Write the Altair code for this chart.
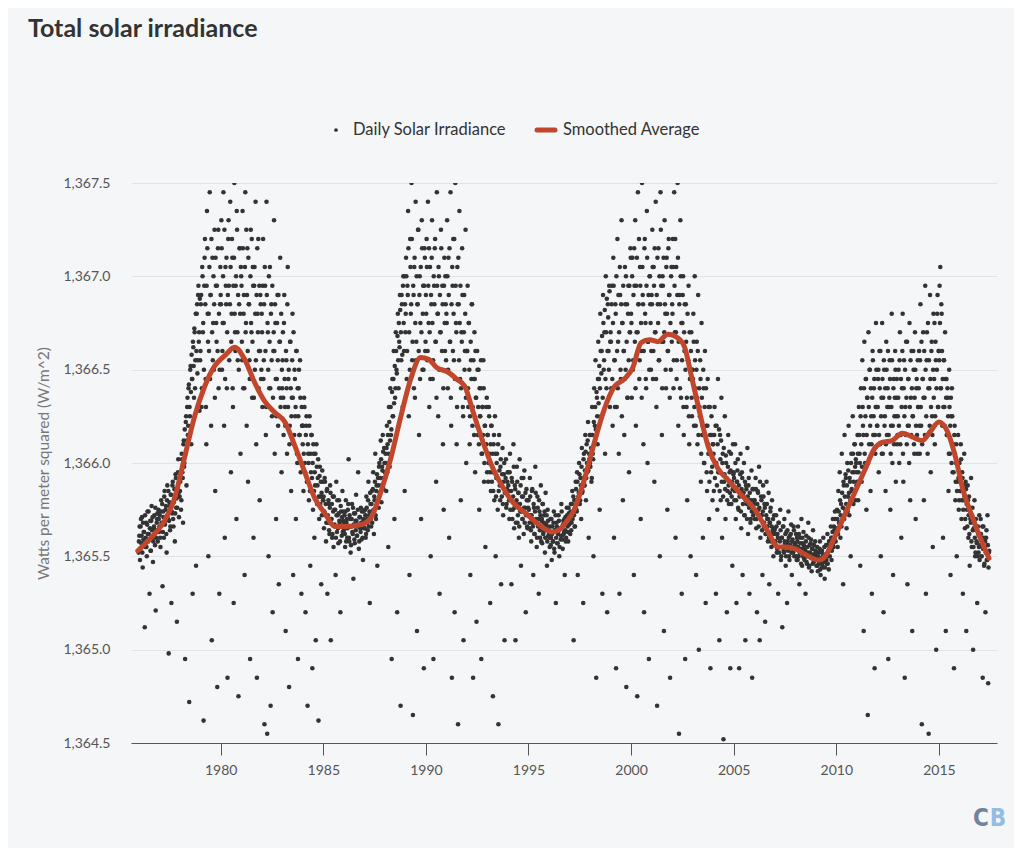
import altair as alt
import pandas as pd

# ---------------- data ----------------
smooth_year = [1975.96, 1976.61, 1977.26, 1977.75, 1978.24, 1978.73, 1979.22, 1979.71, 1980.2, 1980.68,
               1981.17, 1981.66, 1982.15, 1982.64, 1983.13, 1983.62, 1984.1, 1984.59, 1985.08, 1985.57,
               1986.06, 1986.86, 1987.34, 1987.82, 1988.3, 1988.78, 1989.26, 1989.74, 1990.14, 1990.54,
               1991.03, 1991.5, 1991.9, 1992.31, 1992.79, 1993.27, 1993.75, 1994.23, 1994.87, 1995.51,
               1996.15, 1996.47, 1996.74, 1997.23, 1997.72, 1998.21, 1998.7, 1999.19, 1999.67, 2000.08,
               2000.49, 2000.9, 2001.3, 2001.79, 2002.28, 2002.61, 2002.93, 2003.26, 2003.75, 2004.23,
               2004.72, 2005.37, 2006.03, 2006.68, 2007.17, 2007.51, 2008.0, 2008.49, 2009.14, 2009.46,
               2009.95, 2010.44, 2010.93, 2011.42, 2011.82, 2012.23, 2012.72, 2013.21, 2013.7, 2014.19,
               2014.59, 2015.0, 2015.41, 2015.81, 2016.14, 2016.63, 2017.12, 2017.44]
smooth_value = [1365.53, 1365.60, 1365.69, 1365.81, 1366.03, 1366.25, 1366.41, 1366.52, 1366.575, 1366.62,
                1366.555, 1366.43, 1366.33, 1366.27, 1366.22, 1366.09, 1365.95, 1365.81, 1365.73, 1365.66,
                1365.66, 1365.67, 1365.71, 1365.85, 1366.03, 1366.25, 1366.45, 1366.565, 1366.555, 1366.51,
                1366.49, 1366.45, 1366.41, 1366.27, 1366.11, 1365.97, 1365.87, 1365.79, 1365.73, 1365.67,
                1365.63, 1365.64, 1365.67, 1365.75, 1365.91, 1366.11, 1366.29, 1366.41, 1366.45, 1366.51,
                1366.645, 1366.66, 1366.65, 1366.69, 1366.67, 1366.62, 1366.47, 1366.31, 1366.09, 1365.97,
                1365.91, 1365.83, 1365.75, 1365.63, 1365.55, 1365.55, 1365.54, 1365.51, 1365.48, 1365.50,
                1365.61, 1365.73, 1365.85, 1365.97, 1366.07, 1366.11, 1366.12, 1366.16, 1366.14, 1366.12,
                1366.17, 1366.22, 1366.17, 1366.03, 1365.87, 1365.71, 1365.57, 1365.49]

# daily readings (spread incl. dips), sampled through each year in time order
tsi_1976 = [1365.52, 1365.61, 1365.48, 1365.66, 1365.57, 1365.71, 1365.44, 1365.59, 1365.63, 1365.12, 1365.55, 1365.68, 1365.50, 1365.74, 1365.58, 1365.62, 1365.30, 1365.69, 1365.53, 1365.77, 1365.60, 1365.47, 1365.65, 1365.72, 1365.56, 1365.21, 1365.64, 1365.70, 1365.58, 1365.75]
tsi_1977 = [1365.63, 1365.72, 1365.55, 1365.80, 1365.67, 1365.34, 1365.74, 1365.60, 1365.85, 1365.69, 1365.77, 1365.52, 1365.88, 1365.70, 1364.98, 1365.79, 1365.64, 1365.83, 1365.25, 1365.73, 1365.90, 1365.66, 1365.81, 1365.58, 1365.94, 1365.76, 1365.15, 1365.86, 1366.02, 1365.71]
tsi_1978 = [1365.82, 1365.90, 1365.75, 1366.05, 1365.95, 1365.68, 1366.12, 1366.00, 1364.95, 1366.22, 1365.88, 1366.30, 1366.15, 1366.40, 1364.72, 1366.25, 1366.52, 1366.10, 1366.45, 1365.30, 1366.62, 1366.35, 1366.70, 1366.55, 1365.45, 1366.80, 1366.48, 1366.90, 1366.65, 1366.28]
tsi_1979 = [1366.55, 1366.85, 1366.30, 1367.05, 1366.70, 1364.62, 1366.95, 1367.20, 1366.45, 1366.10, 1367.35, 1366.80, 1365.50, 1366.60, 1367.45, 1366.90, 1366.20, 1365.05, 1367.10, 1366.75, 1366.50, 1367.25, 1365.85, 1366.95, 1366.65, 1364.80, 1367.15, 1366.40, 1365.30, 1366.85]
tsi_1980 = [1366.90, 1367.30, 1366.50, 1366.75, 1367.45, 1366.20, 1365.60, 1367.05, 1366.85, 1366.40, 1364.85, 1367.20, 1366.95, 1366.60, 1367.40, 1365.95, 1366.80, 1367.10, 1366.30, 1365.25, 1367.50, 1366.70, 1366.95, 1365.70, 1367.25, 1366.55, 1364.75, 1366.85, 1367.15, 1366.05]
tsi_1981 = [1367.00, 1366.65, 1367.35, 1366.40, 1366.90, 1365.40, 1367.45, 1366.75, 1366.20, 1367.15, 1365.90, 1366.85, 1366.55, 1364.95, 1367.25, 1366.70, 1366.35, 1367.05, 1365.60, 1366.95, 1366.50, 1367.40, 1366.10, 1364.85, 1366.80, 1367.20, 1366.60, 1365.80, 1366.90, 1366.45]
tsi_1982 = [1366.80, 1366.30, 1367.20, 1366.55, 1364.60, 1366.95, 1366.15, 1367.40, 1364.55, 1366.70, 1365.50, 1366.40, 1367.05, 1364.70, 1366.85, 1366.25, 1365.20, 1366.60, 1367.30, 1366.05, 1366.75, 1365.70, 1366.45, 1366.90, 1366.20, 1365.35, 1366.65, 1367.10, 1366.35, 1365.95]
tsi_1983 = [1366.40, 1366.70, 1366.15, 1366.90, 1366.30, 1365.10, 1366.55, 1366.05, 1367.05, 1366.45, 1364.80, 1366.20, 1366.65, 1365.85, 1366.35, 1366.80, 1365.40, 1366.10, 1366.50, 1366.25, 1365.70, 1366.60, 1366.00, 1364.95, 1366.40, 1366.15, 1366.55, 1365.95, 1365.30, 1366.20]
tsi_1984 = [1366.10, 1365.85, 1366.35, 1366.00, 1365.20, 1366.20, 1365.90, 1364.70, 1366.05, 1365.80, 1366.25, 1365.45, 1365.95, 1366.15, 1364.90, 1365.75, 1366.05, 1365.60, 1365.88, 1365.05, 1366.10, 1365.78, 1365.92, 1364.62, 1365.70, 1365.98, 1365.82, 1365.35, 1365.72, 1365.90]
tsi_1985 = [1365.80, 1365.65, 1365.92, 1365.72, 1365.58, 1365.85, 1365.30, 1365.68, 1365.78, 1365.62, 1365.88, 1365.05, 1365.70, 1365.60, 1365.82, 1365.55, 1365.75, 1365.66, 1365.40, 1365.90, 1365.63, 1365.72, 1365.57, 1365.80, 1365.68, 1365.20, 1365.74, 1365.61, 1365.85, 1365.69]
tsi_1986 = [1365.64, 1365.72, 1365.55, 1365.80, 1365.68, 1365.60, 1365.75, 1366.02, 1365.58, 1365.70, 1365.52, 1365.66, 1365.78, 1365.62, 1365.38, 1365.73, 1365.57, 1365.69, 1365.83, 1365.61, 1365.67, 1365.95, 1365.54, 1365.71, 1365.65, 1365.76, 1365.59, 1365.68, 1365.48, 1365.74]
tsi_1987 = [1365.68, 1365.75, 1365.60, 1365.82, 1365.70, 1365.64, 1365.90, 1365.72, 1365.25, 1365.78, 1365.66, 1365.85, 1365.74, 1365.95, 1365.62, 1365.80, 1366.05, 1365.70, 1365.88, 1365.45, 1365.92, 1365.76, 1366.00, 1365.84, 1366.12, 1365.79, 1365.98, 1366.15, 1365.86, 1366.08]
tsi_1988 = [1365.95, 1366.05, 1365.85, 1366.20, 1366.10, 1365.55, 1366.30, 1365.98, 1366.40, 1366.15, 1364.95, 1366.45, 1366.25, 1366.60, 1365.70, 1366.35, 1366.70, 1366.50, 1365.20, 1366.80, 1366.40, 1366.65, 1366.90, 1364.70, 1366.55, 1366.85, 1366.30, 1367.00, 1366.60, 1365.85]
tsi_1989 = [1366.70, 1367.10, 1366.45, 1366.95, 1367.35, 1366.25, 1365.40, 1367.20, 1366.80, 1367.50, 1366.55, 1364.65, 1366.90, 1367.05, 1366.35, 1367.40, 1366.65, 1365.10, 1366.85, 1367.25, 1366.15, 1367.00, 1366.75, 1365.70, 1367.30, 1366.50, 1366.95, 1364.90, 1367.15, 1366.60]
tsi_1990 = [1366.90, 1367.20, 1366.55, 1367.40, 1366.75, 1366.30, 1367.05, 1365.50, 1366.85, 1367.30, 1366.45, 1364.95, 1366.95, 1367.15, 1366.65, 1365.90, 1367.45, 1366.80, 1366.25, 1367.00, 1365.30, 1366.70, 1367.25, 1366.50, 1366.95, 1366.10, 1365.75, 1367.10, 1366.60, 1366.85]
tsi_1991 = [1366.80, 1367.30, 1366.40, 1367.10, 1365.60, 1366.65, 1367.45, 1366.20, 1364.85, 1366.95, 1367.20, 1366.55, 1365.20, 1367.50, 1366.75, 1366.10, 1367.05, 1364.60, 1366.85, 1367.35, 1366.45, 1365.80, 1366.70, 1367.15, 1366.30, 1365.05, 1366.90, 1366.60, 1367.25, 1366.00]
tsi_1992 = [1366.60, 1366.95, 1366.30, 1366.75, 1366.10, 1365.40, 1366.55, 1366.85, 1366.20, 1364.85, 1366.45, 1366.70, 1365.95, 1366.35, 1365.15, 1366.60, 1366.15, 1366.50, 1365.75, 1366.25, 1366.40, 1364.95, 1366.05, 1366.30, 1366.55, 1365.90, 1366.20, 1365.55, 1366.10, 1366.35]
tsi_1993 = [1366.15, 1365.90, 1366.30, 1366.05, 1365.25, 1365.85, 1366.20, 1365.95, 1364.75, 1366.10, 1365.80, 1366.25, 1365.50, 1365.92, 1366.05, 1365.75, 1364.60, 1366.15, 1365.88, 1365.98, 1365.35, 1365.82, 1366.08, 1365.72, 1365.94, 1365.05, 1365.86, 1366.02, 1365.78, 1365.90]
tsi_1994 = [1365.85, 1365.95, 1365.70, 1366.05, 1365.80, 1365.35, 1365.90, 1365.75, 1366.10, 1365.65, 1365.88, 1365.05, 1365.78, 1365.98, 1365.68, 1365.84, 1365.60, 1366.02, 1365.74, 1365.45, 1365.92, 1365.70, 1365.82, 1365.62, 1365.96, 1365.76, 1365.20, 1365.86, 1365.66, 1365.80]
tsi_1995 = [1365.80, 1365.65, 1365.92, 1365.72, 1365.58, 1365.85, 1365.68, 1365.40, 1365.76, 1365.62, 1365.98, 1365.70, 1365.55, 1365.82, 1365.66, 1365.30, 1365.74, 1365.60, 1365.88, 1365.69, 1365.57, 1365.78, 1365.63, 1365.72, 1365.52, 1365.84, 1365.67, 1365.45, 1365.75, 1365.61]
tsi_1996 = [1365.62, 1365.55, 1365.70, 1365.60, 1365.48, 1365.66, 1365.58, 1365.74, 1365.52, 1365.64, 1365.25, 1365.68, 1365.57, 1365.62, 1365.72, 1365.50, 1365.65, 1365.59, 1365.78, 1365.61, 1365.54, 1365.69, 1365.63, 1365.40, 1365.71, 1365.60, 1365.76, 1365.66, 1365.58, 1365.73]
tsi_1997 = [1365.70, 1365.62, 1365.78, 1365.68, 1365.85, 1365.72, 1365.05, 1365.80, 1365.66, 1365.90, 1365.75, 1365.95, 1365.40, 1365.82, 1366.00, 1365.78, 1365.92, 1365.70, 1366.08, 1365.85, 1365.25, 1366.05, 1365.88, 1366.15, 1365.80, 1366.10, 1365.95, 1366.22, 1365.60, 1366.02]
tsi_1998 = [1366.00, 1366.15, 1365.90, 1366.30, 1366.05, 1365.50, 1366.40, 1366.20, 1366.55, 1364.85, 1366.35, 1366.10, 1366.65, 1366.45, 1365.75, 1366.80, 1366.25, 1366.60, 1365.30, 1366.90, 1366.50, 1366.70, 1366.05, 1367.00, 1366.40, 1365.20, 1366.85, 1366.60, 1366.95, 1366.30]
tsi_1999 = [1366.70, 1366.40, 1366.95, 1366.20, 1367.10, 1365.60, 1366.55, 1366.85, 1364.90, 1366.30, 1367.20, 1366.65, 1366.05, 1365.30, 1366.90, 1366.45, 1367.30, 1366.75, 1365.80, 1366.60, 1366.15, 1367.05, 1366.50, 1364.80, 1366.85, 1366.35, 1366.95, 1365.95, 1366.70, 1367.15]
tsi_2000 = [1366.80, 1366.35, 1367.10, 1366.55, 1365.40, 1366.95, 1367.30, 1366.20, 1366.70, 1364.75, 1367.45, 1366.85, 1366.45, 1367.05, 1365.70, 1366.60, 1367.50, 1366.90, 1366.10, 1365.20, 1367.20, 1366.75, 1366.40, 1367.35, 1366.00, 1366.65, 1364.95, 1367.00, 1366.85, 1366.50]
tsi_2001 = [1366.90, 1367.25, 1366.45, 1367.05, 1365.90, 1366.70, 1367.40, 1366.30, 1364.70, 1366.85, 1367.15, 1366.55, 1365.50, 1367.45, 1366.95, 1366.15, 1367.00, 1366.65, 1365.10, 1367.30, 1366.80, 1366.40, 1367.10, 1365.75, 1366.60, 1367.20, 1366.90, 1364.85, 1366.50, 1367.05]
tsi_2002 = [1366.85, 1367.20, 1366.40, 1367.45, 1366.70, 1365.60, 1367.05, 1366.55, 1367.50, 1366.20, 1364.55, 1366.90, 1367.30, 1366.35, 1365.30, 1366.75, 1367.00, 1366.15, 1366.60, 1364.95, 1366.85, 1366.30, 1365.80, 1366.55, 1366.95, 1366.10, 1366.45, 1365.50, 1366.70, 1366.25]
tsi_2003 = [1366.50, 1366.80, 1366.20, 1367.00, 1366.40, 1365.40, 1366.65, 1366.10, 1366.90, 1365.00, 1366.30, 1366.55, 1365.90, 1366.75, 1366.15, 1365.60, 1366.40, 1366.00, 1366.60, 1365.25, 1366.20, 1365.85, 1366.45, 1366.05, 1365.70, 1366.30, 1364.90, 1365.95, 1366.15, 1365.80]
tsi_2004 = [1366.10, 1365.85, 1366.30, 1366.00, 1365.30, 1366.20, 1365.75, 1366.45, 1365.95, 1365.05, 1366.15, 1365.80, 1366.35, 1365.60, 1366.05, 1364.52, 1365.90, 1366.25, 1365.70, 1366.00, 1365.20, 1365.85, 1366.15, 1365.78, 1365.95, 1364.90, 1366.05, 1365.82, 1365.45, 1366.10]
tsi_2005 = [1365.95, 1365.80, 1366.10, 1365.70, 1365.25, 1365.90, 1366.02, 1365.75, 1364.90, 1365.85, 1366.05, 1365.65, 1365.95, 1365.40, 1365.82, 1366.00, 1365.72, 1365.05, 1365.88, 1365.78, 1366.08, 1365.62, 1365.92, 1365.30, 1365.80, 1365.70, 1365.96, 1364.85, 1365.76, 1365.86]
tsi_2006 = [1365.80, 1365.70, 1365.92, 1365.65, 1365.20, 1365.85, 1365.75, 1365.98, 1365.05, 1365.60, 1365.82, 1365.72, 1365.40, 1365.88, 1365.66, 1365.78, 1365.15, 1365.62, 1365.90, 1365.70, 1365.58, 1365.84, 1365.35, 1365.68, 1365.76, 1365.55, 1365.80, 1365.64, 1365.50, 1365.72]
tsi_2007 = [1365.65, 1365.58, 1365.72, 1365.52, 1365.62, 1365.30, 1365.68, 1365.55, 1365.75, 1365.48, 1365.60, 1365.12, 1365.66, 1365.53, 1365.70, 1365.57, 1365.45, 1365.63, 1365.25, 1365.58, 1365.74, 1365.50, 1365.61, 1365.55, 1365.67, 1365.40, 1365.59, 1365.52, 1365.64, 1365.56]
tsi_2008 = [1365.55, 1365.62, 1365.48, 1365.58, 1365.66, 1365.50, 1365.35, 1365.60, 1365.53, 1365.70, 1365.45, 1365.57, 1365.63, 1365.49, 1365.55, 1365.30, 1365.61, 1365.46, 1365.52, 1365.68, 1365.44, 1365.56, 1365.50, 1365.59, 1365.42, 1365.54, 1365.64, 1365.47, 1365.51, 1365.58]
tsi_2009 = [1365.50, 1365.45, 1365.55, 1365.42, 1365.52, 1365.48, 1365.58, 1365.40, 1365.47, 1365.53, 1365.44, 1365.60, 1365.49, 1365.38, 1365.51, 1365.56, 1365.46, 1365.62, 1365.50, 1365.43, 1365.58, 1365.54, 1365.66, 1365.48, 1365.60, 1365.70, 1365.55, 1365.64, 1365.74, 1365.58]
tsi_2010 = [1365.62, 1365.75, 1365.55, 1365.85, 1365.68, 1365.95, 1365.60, 1365.78, 1366.05, 1365.70, 1365.35, 1365.88, 1366.15, 1365.75, 1365.92, 1365.65, 1366.00, 1365.82, 1366.20, 1365.72, 1365.90, 1365.50, 1366.05, 1365.85, 1366.25, 1365.78, 1365.95, 1366.10, 1365.80, 1366.00]
tsi_2011 = [1365.95, 1366.15, 1365.80, 1366.30, 1366.05, 1365.45, 1366.40, 1365.90, 1366.55, 1366.20, 1365.10, 1366.65, 1366.00, 1366.45, 1365.75, 1366.35, 1364.65, 1366.70, 1366.10, 1366.50, 1365.85, 1366.25, 1365.30, 1366.60, 1366.15, 1366.40, 1364.90, 1366.05, 1366.75, 1366.30]
tsi_2012 = [1366.20, 1366.45, 1365.95, 1366.60, 1366.10, 1365.50, 1366.35, 1366.75, 1366.05, 1365.20, 1366.50, 1366.25, 1365.85, 1366.65, 1366.15, 1366.40, 1364.95, 1366.30, 1366.55, 1365.75, 1366.20, 1366.80, 1366.00, 1365.40, 1366.45, 1366.25, 1366.60, 1365.90, 1366.35, 1366.10]
tsi_2013 = [1366.25, 1366.50, 1366.00, 1366.70, 1366.15, 1365.60, 1366.40, 1366.80, 1365.90, 1366.55, 1364.85, 1366.30, 1366.65, 1366.10, 1365.35, 1366.45, 1366.20, 1366.75, 1365.80, 1366.35, 1366.60, 1365.10, 1366.25, 1366.50, 1366.05, 1366.70, 1365.70, 1366.40, 1366.15, 1366.55]
tsi_2014 = [1366.30, 1366.60, 1366.05, 1366.85, 1366.20, 1364.60, 1366.45, 1366.70, 1365.80, 1366.35, 1366.95, 1365.30, 1366.55, 1366.15, 1366.75, 1364.55, 1366.40, 1366.90, 1365.95, 1366.60, 1366.25, 1365.55, 1366.80, 1366.45, 1366.10, 1366.65, 1365.00, 1366.50, 1366.90, 1366.30]
tsi_2015 = [1366.60, 1366.95, 1367.05, 1366.40, 1366.80, 1366.20, 1365.60, 1366.55, 1366.30, 1366.70, 1365.10, 1366.45, 1366.15, 1366.35, 1365.85, 1366.50, 1366.05, 1365.40, 1366.25, 1366.40, 1365.95, 1366.10, 1364.90, 1366.20, 1365.80, 1366.00, 1365.50, 1365.90, 1366.15, 1365.75]
tsi_2016 = [1366.00, 1365.85, 1366.10, 1365.70, 1365.95, 1365.30, 1365.80, 1366.05, 1365.65, 1365.90, 1365.10, 1365.75, 1365.88, 1365.60, 1365.82, 1365.45, 1365.70, 1365.92, 1365.55, 1365.76, 1365.00, 1365.65, 1365.80, 1365.50, 1365.70, 1365.58, 1365.25, 1365.66, 1365.52, 1365.72]
tsi_2017 = [1365.62, 1365.70, 1365.50, 1365.58, 1364.85, 1365.66, 1365.45, 1365.55, 1365.20, 1365.60, 1365.48, 1365.72, 1364.82, 1365.52]

# further daily readings from the dense core of the cloud, also in time order
core_1976 = [1365.58, 1365.66, 1365.54, 1365.70, 1365.61, 1365.52, 1365.68, 1365.63, 1365.57, 1365.72, 1365.60, 1365.55, 1365.67, 1365.62, 1365.74, 1365.59, 1365.65, 1365.53, 1365.69, 1365.64, 1365.71, 1365.58, 1365.66, 1365.62, 1365.76, 1365.60, 1365.68, 1365.73, 1365.63, 1365.70]
core_1977 = [1365.66, 1365.60, 1365.74, 1365.68, 1365.78, 1365.63, 1365.71, 1365.82, 1365.67, 1365.75, 1365.62, 1365.80, 1365.72, 1365.85, 1365.69, 1365.77, 1365.66, 1365.83, 1365.74, 1365.88, 1365.70, 1365.79, 1365.86, 1365.73, 1365.92, 1365.81, 1365.76, 1365.95, 1365.84, 1365.90]
core_1978 = [1365.85, 1365.95, 1365.80, 1366.02, 1365.92, 1366.10, 1365.98, 1366.18, 1366.05, 1366.25, 1366.12, 1366.35, 1366.20, 1366.42, 1366.30, 1366.50, 1366.38, 1366.58, 1366.45, 1366.65, 1366.52, 1366.72, 1366.40, 1366.80, 1366.60, 1366.85, 1366.55, 1366.95, 1366.70, 1366.88]
core_1979 = [1366.60, 1366.90, 1366.40, 1367.00, 1366.75, 1366.50, 1367.10, 1366.85, 1366.30, 1366.95, 1367.15, 1366.65, 1366.80, 1367.05, 1366.45, 1366.90, 1367.20, 1366.70, 1366.55, 1367.00, 1366.85, 1366.35, 1367.10, 1366.75, 1366.95, 1366.60, 1367.25, 1366.80, 1366.50, 1367.05]
core_1980 = [1366.85, 1367.15, 1366.60, 1367.00, 1366.75, 1367.25, 1366.45, 1366.95, 1367.10, 1366.70, 1366.90, 1367.30, 1366.55, 1366.85, 1367.05, 1366.65, 1367.20, 1366.40, 1366.95, 1367.10, 1366.80, 1366.60, 1367.00, 1367.35, 1366.70, 1366.90, 1366.50, 1367.15, 1366.80, 1367.05]
core_1981 = [1366.95, 1366.55, 1367.15, 1366.80, 1366.40, 1367.05, 1366.70, 1367.25, 1366.90, 1366.60, 1367.10, 1366.85, 1366.45, 1367.00, 1366.75, 1367.20, 1366.65, 1366.95, 1366.35, 1367.05, 1366.80, 1366.55, 1366.90, 1367.15, 1366.70, 1366.40, 1366.95, 1366.60, 1366.85, 1366.50]
core_1982 = [1366.70, 1366.95, 1366.45, 1366.85, 1367.05, 1366.60, 1366.30, 1366.90, 1366.75, 1366.50, 1367.00, 1366.65, 1366.40, 1366.80, 1366.55, 1366.95, 1366.35, 1366.70, 1366.60, 1366.85, 1366.45, 1366.25, 1366.75, 1366.55, 1366.90, 1366.40, 1366.65, 1366.30, 1366.80, 1366.50]
core_1983 = [1366.55, 1366.35, 1366.75, 1366.45, 1366.20, 1366.60, 1366.40, 1366.85, 1366.30, 1366.50, 1366.10, 1366.65, 1366.40, 1366.25, 1366.55, 1366.35, 1366.70, 1366.15, 1366.45, 1366.30, 1366.60, 1366.05, 1366.40, 1366.25, 1366.50, 1366.15, 1366.35, 1366.00, 1366.30, 1366.20]
core_1984 = [1366.20, 1366.05, 1366.30, 1365.95, 1366.15, 1366.25, 1365.90, 1366.10, 1366.00, 1366.20, 1365.85, 1366.05, 1366.15, 1365.92, 1366.00, 1366.10, 1365.85, 1365.95, 1366.05, 1365.80, 1365.98, 1365.88, 1366.02, 1365.82, 1365.93, 1365.78, 1365.90, 1365.84, 1365.96, 1365.80]
core_1985 = [1365.82, 1365.74, 1365.90, 1365.78, 1365.68, 1365.86, 1365.72, 1365.80, 1365.64, 1365.76, 1365.84, 1365.70, 1365.78, 1365.62, 1365.74, 1365.82, 1365.67, 1365.75, 1365.60, 1365.72, 1365.80, 1365.65, 1365.73, 1365.69, 1365.58, 1365.77, 1365.66, 1365.71, 1365.63, 1365.74]
core_1986 = [1365.68, 1365.62, 1365.74, 1365.58, 1365.70, 1365.65, 1365.78, 1365.60, 1365.72, 1365.66, 1365.56, 1365.70, 1365.63, 1365.76, 1365.67, 1365.59, 1365.73, 1365.64, 1365.69, 1365.61, 1365.75, 1365.66, 1365.58, 1365.71, 1365.63, 1365.68, 1365.74, 1365.60, 1365.70, 1365.65]
core_1987 = [1365.65, 1365.72, 1365.62, 1365.76, 1365.68, 1365.80, 1365.66, 1365.74, 1365.84, 1365.70, 1365.78, 1365.68, 1365.86, 1365.75, 1365.82, 1365.90, 1365.72, 1365.85, 1365.94, 1365.80, 1365.88, 1365.98, 1365.84, 1365.92, 1366.02, 1365.88, 1365.96, 1366.06, 1365.92, 1366.00]
core_1988 = [1365.92, 1366.00, 1366.08, 1365.95, 1366.15, 1366.05, 1366.22, 1366.12, 1366.30, 1366.18, 1366.38, 1366.25, 1366.45, 1366.32, 1366.52, 1366.40, 1366.60, 1366.48, 1366.68, 1366.55, 1366.75, 1366.62, 1366.82, 1366.70, 1366.90, 1366.58, 1366.95, 1366.75, 1367.00, 1366.85]
core_1989 = [1366.80, 1367.00, 1366.60, 1366.90, 1367.15, 1366.70, 1366.50, 1367.05, 1366.85, 1367.20, 1366.65, 1366.95, 1366.40, 1367.10, 1366.75, 1366.55, 1367.00, 1366.85, 1367.25, 1366.60, 1366.90, 1366.45, 1367.05, 1366.70, 1367.15, 1366.80, 1366.50, 1366.95, 1367.10, 1366.65]
core_1990 = [1366.80, 1367.05, 1366.60, 1366.95, 1367.15, 1366.70, 1366.45, 1366.90, 1367.10, 1366.75, 1366.55, 1367.00, 1366.85, 1367.20, 1366.65, 1366.35, 1366.95, 1366.80, 1367.05, 1366.50, 1366.90, 1366.70, 1367.15, 1366.60, 1366.85, 1366.40, 1366.95, 1366.75, 1367.00, 1366.55]
core_1991 = [1366.75, 1367.00, 1366.50, 1366.90, 1367.15, 1366.65, 1366.35, 1366.85, 1367.05, 1366.60, 1366.80, 1367.20, 1366.45, 1366.95, 1366.70, 1366.30, 1366.85, 1367.10, 1366.55, 1366.75, 1366.95, 1366.40, 1366.65, 1366.90, 1366.25, 1366.70, 1366.50, 1366.80, 1366.35, 1366.60]
core_1992 = [1366.60, 1366.40, 1366.75, 1366.50, 1366.25, 1366.65, 1366.45, 1366.85, 1366.30, 1366.55, 1366.15, 1366.45, 1366.60, 1366.35, 1366.20, 1366.50, 1366.30, 1366.10, 1366.40, 1366.25, 1366.55, 1366.05, 1366.30, 1366.15, 1366.40, 1366.00, 1366.20, 1366.10, 1366.30, 1365.95]
core_1993 = [1366.15, 1366.00, 1366.25, 1365.95, 1366.10, 1366.20, 1365.90, 1366.05, 1365.85, 1366.15, 1365.95, 1366.05, 1365.82, 1366.00, 1365.92, 1366.10, 1365.85, 1365.96, 1365.80, 1366.02, 1365.88, 1365.94, 1365.78, 1365.90, 1366.00, 1365.84, 1365.92, 1365.76, 1365.86, 1365.95]
core_1994 = [1365.88, 1365.80, 1365.95, 1365.75, 1365.85, 1365.92, 1365.70, 1365.82, 1365.98, 1365.76, 1365.86, 1365.68, 1365.80, 1365.90, 1365.72, 1365.84, 1365.66, 1365.78, 1365.88, 1365.74, 1365.82, 1365.70, 1365.92, 1365.76, 1365.68, 1365.84, 1365.72, 1365.80, 1365.65, 1365.76]
core_1995 = [1365.75, 1365.68, 1365.82, 1365.64, 1365.72, 1365.86, 1365.66, 1365.78, 1365.62, 1365.74, 1365.84, 1365.68, 1365.60, 1365.76, 1365.70, 1365.80, 1365.64, 1365.72, 1365.58, 1365.70, 1365.78, 1365.62, 1365.68, 1365.74, 1365.60, 1365.66, 1365.72, 1365.58, 1365.69, 1365.64]
core_1996 = [1365.60, 1365.66, 1365.56, 1365.70, 1365.62, 1365.58, 1365.68, 1365.54, 1365.64, 1365.72, 1365.60, 1365.66, 1365.57, 1365.63, 1365.69, 1365.55, 1365.65, 1365.61, 1365.74, 1365.59, 1365.67, 1365.62, 1365.70, 1365.64, 1365.58, 1365.68, 1365.72, 1365.63, 1365.76, 1365.67]
core_1997 = [1365.68, 1365.74, 1365.64, 1365.78, 1365.70, 1365.82, 1365.72, 1365.66, 1365.80, 1365.86, 1365.74, 1365.90, 1365.78, 1365.84, 1365.94, 1365.80, 1365.88, 1365.98, 1365.84, 1365.92, 1366.02, 1365.88, 1365.96, 1366.06, 1365.92, 1366.00, 1366.12, 1365.96, 1366.05, 1366.15]
core_1998 = [1365.98, 1366.08, 1365.92, 1366.15, 1366.02, 1366.22, 1366.10, 1366.30, 1366.18, 1366.38, 1366.25, 1366.45, 1366.32, 1366.52, 1366.40, 1366.60, 1366.48, 1366.68, 1366.35, 1366.75, 1366.55, 1366.82, 1366.45, 1366.70, 1366.88, 1366.60, 1366.78, 1366.50, 1366.92, 1366.65]
core_1999 = [1366.65, 1366.85, 1366.45, 1366.75, 1366.95, 1366.55, 1366.30, 1366.80, 1367.00, 1366.60, 1366.40, 1366.90, 1366.70, 1367.05, 1366.50, 1366.85, 1366.25, 1366.75, 1366.95, 1366.60, 1366.45, 1366.85, 1367.00, 1366.65, 1366.35, 1366.80, 1366.55, 1366.95, 1366.70, 1367.10]
core_2000 = [1366.75, 1367.00, 1366.50, 1366.90, 1367.15, 1366.65, 1366.40, 1366.95, 1367.10, 1366.70, 1366.85, 1367.20, 1366.55, 1366.95, 1366.75, 1366.35, 1367.05, 1366.85, 1366.60, 1367.15, 1366.80, 1366.45, 1366.95, 1367.10, 1366.65, 1366.90, 1366.50, 1367.00, 1366.75, 1366.60]
core_2001 = [1366.85, 1367.05, 1366.60, 1366.95, 1367.15, 1366.70, 1366.45, 1366.90, 1367.10, 1366.75, 1366.55, 1367.00, 1366.85, 1367.25, 1366.65, 1366.40, 1366.95, 1367.10, 1366.70, 1366.85, 1366.50, 1367.05, 1366.80, 1366.60, 1367.15, 1366.90, 1366.35, 1366.75, 1367.00, 1366.65]
core_2002 = [1366.80, 1367.05, 1366.55, 1366.95, 1367.20, 1366.70, 1366.45, 1366.90, 1367.10, 1366.65, 1366.85, 1366.40, 1367.00, 1366.75, 1366.55, 1366.90, 1366.30, 1366.70, 1366.85, 1366.50, 1366.65, 1366.35, 1366.80, 1366.55, 1366.25, 1366.70, 1366.45, 1366.60, 1366.35, 1366.50]
core_2003 = [1366.45, 1366.65, 1366.30, 1366.55, 1366.20, 1366.50, 1366.35, 1366.60, 1366.15, 1366.40, 1366.25, 1366.45, 1366.05, 1366.35, 1366.20, 1366.50, 1366.00, 1366.30, 1366.15, 1366.40, 1365.95, 1366.20, 1366.10, 1366.30, 1365.90, 1366.15, 1366.05, 1366.25, 1365.98, 1366.10]
core_2004 = [1366.05, 1366.15, 1365.92, 1366.20, 1366.00, 1365.88, 1366.10, 1365.95, 1366.18, 1365.85, 1366.02, 1366.12, 1365.90, 1366.00, 1365.82, 1366.08, 1365.94, 1365.86, 1366.04, 1365.92, 1365.80, 1365.98, 1365.88, 1366.06, 1365.84, 1365.96, 1365.78, 1365.90, 1365.86, 1365.94]
core_2005 = [1365.92, 1365.85, 1366.00, 1365.80, 1365.90, 1365.96, 1365.76, 1365.88, 1365.82, 1365.94, 1365.74, 1365.86, 1365.92, 1365.78, 1365.84, 1365.72, 1365.90, 1365.80, 1365.86, 1365.70, 1365.82, 1365.88, 1365.76, 1365.84, 1365.68, 1365.80, 1365.74, 1365.86, 1365.72, 1365.78]
core_2006 = [1365.80, 1365.74, 1365.86, 1365.70, 1365.78, 1365.84, 1365.66, 1365.76, 1365.90, 1365.72, 1365.80, 1365.64, 1365.74, 1365.82, 1365.68, 1365.76, 1365.62, 1365.72, 1365.78, 1365.66, 1365.70, 1365.60, 1365.68, 1365.74, 1365.58, 1365.66, 1365.62, 1365.70, 1365.56, 1365.64]
core_2007 = [1365.62, 1365.56, 1365.66, 1365.54, 1365.60, 1365.68, 1365.52, 1365.58, 1365.64, 1365.50, 1365.60, 1365.55, 1365.66, 1365.52, 1365.58, 1365.62, 1365.50, 1365.57, 1365.64, 1365.53, 1365.60, 1365.48, 1365.56, 1365.62, 1365.52, 1365.58, 1365.54, 1365.66, 1365.50, 1365.57]
core_2008 = [1365.56, 1365.50, 1365.60, 1365.48, 1365.55, 1365.62, 1365.52, 1365.57, 1365.46, 1365.54, 1365.60, 1365.50, 1365.56, 1365.48, 1365.53, 1365.58, 1365.47, 1365.55, 1365.50, 1365.60, 1365.45, 1365.52, 1365.57, 1365.49, 1365.54, 1365.46, 1365.51, 1365.56, 1365.48, 1365.53]
core_2009 = [1365.48, 1365.52, 1365.45, 1365.50, 1365.46, 1365.54, 1365.43, 1365.49, 1365.52, 1365.45, 1365.50, 1365.47, 1365.55, 1365.44, 1365.51, 1365.48, 1365.56, 1365.46, 1365.53, 1365.58, 1365.50, 1365.55, 1365.60, 1365.53, 1365.63, 1365.57, 1365.66, 1365.60, 1365.70, 1365.64]
core_2010 = [1365.65, 1365.70, 1365.62, 1365.74, 1365.68, 1365.80, 1365.72, 1365.66, 1365.84, 1365.76, 1365.90, 1365.70, 1365.82, 1365.94, 1365.78, 1365.88, 1365.74, 1365.96, 1365.84, 1365.92, 1365.80, 1366.00, 1365.86, 1365.95, 1366.05, 1365.90, 1366.10, 1365.98, 1366.02, 1365.88]
core_2011 = [1365.90, 1366.05, 1365.95, 1366.15, 1366.00, 1366.25, 1366.10, 1365.98, 1366.30, 1366.15, 1366.40, 1366.05, 1366.25, 1366.45, 1366.15, 1366.35, 1366.00, 1366.30, 1366.50, 1366.20, 1366.40, 1366.10, 1366.35, 1366.55, 1366.25, 1366.45, 1366.15, 1366.30, 1366.50, 1366.20]
core_2012 = [1366.30, 1366.50, 1366.15, 1366.40, 1366.60, 1366.25, 1366.05, 1366.45, 1366.35, 1366.55, 1366.20, 1366.40, 1366.10, 1366.50, 1366.30, 1366.60, 1366.15, 1366.35, 1366.45, 1366.05, 1366.30, 1366.55, 1366.20, 1366.40, 1366.10, 1366.35, 1366.50, 1366.25, 1366.45, 1366.15]
core_2013 = [1366.35, 1366.20, 1366.55, 1366.10, 1366.45, 1366.30, 1366.60, 1366.05, 1366.40, 1366.25, 1366.50, 1366.15, 1366.35, 1366.65, 1366.20, 1366.45, 1366.00, 1366.30, 1366.55, 1366.15, 1366.40, 1366.25, 1366.60, 1366.10, 1366.35, 1366.50, 1366.20, 1366.45, 1366.05, 1366.30]
core_2014 = [1366.40, 1366.20, 1366.55, 1366.30, 1366.65, 1366.10, 1366.45, 1366.35, 1366.60, 1366.15, 1366.50, 1366.25, 1366.70, 1366.05, 1366.40, 1366.55, 1366.20, 1366.45, 1366.30, 1366.65, 1366.15, 1366.50, 1366.35, 1366.75, 1366.25, 1366.55, 1366.40, 1366.80, 1366.30, 1366.60]
core_2015 = [1366.55, 1366.75, 1366.40, 1366.85, 1366.60, 1366.45, 1366.30, 1366.55, 1366.20, 1366.45, 1366.35, 1366.15, 1366.40, 1366.25, 1366.05, 1366.30, 1366.20, 1366.35, 1366.00, 1366.25, 1366.10, 1365.95, 1366.15, 1366.05, 1365.90, 1366.10, 1365.85, 1366.00, 1365.92, 1365.80]
core_2016 = [1365.95, 1365.85, 1366.02, 1365.80, 1365.92, 1365.75, 1365.88, 1365.82, 1365.70, 1365.86, 1365.78, 1365.66, 1365.80, 1365.72, 1365.62, 1365.76, 1365.68, 1365.58, 1365.72, 1365.64, 1365.55, 1365.68, 1365.60, 1365.52, 1365.64, 1365.57, 1365.50, 1365.62, 1365.55, 1365.48]
core_2017 = [1365.56, 1365.62, 1365.50, 1365.66, 1365.54, 1365.60, 1365.46, 1365.58, 1365.52, 1365.64, 1365.48, 1365.56, 1365.44, 1365.53]

daily_years = [
    (1976, tsi_1976, core_1976), (1977, tsi_1977, core_1977), (1978, tsi_1978, core_1978),
    (1979, tsi_1979, core_1979), (1980, tsi_1980, core_1980), (1981, tsi_1981, core_1981),
    (1982, tsi_1982, core_1982), (1983, tsi_1983, core_1983), (1984, tsi_1984, core_1984),
    (1985, tsi_1985, core_1985), (1986, tsi_1986, core_1986), (1987, tsi_1987, core_1987),
    (1988, tsi_1988, core_1988), (1989, tsi_1989, core_1989), (1990, tsi_1990, core_1990),
    (1991, tsi_1991, core_1991), (1992, tsi_1992, core_1992), (1993, tsi_1993, core_1993),
    (1994, tsi_1994, core_1994), (1995, tsi_1995, core_1995), (1996, tsi_1996, core_1996),
    (1997, tsi_1997, core_1997), (1998, tsi_1998, core_1998), (1999, tsi_1999, core_1999),
    (2000, tsi_2000, core_2000), (2001, tsi_2001, core_2001), (2002, tsi_2002, core_2002),
    (2003, tsi_2003, core_2003), (2004, tsi_2004, core_2004), (2005, tsi_2005, core_2005),
    (2006, tsi_2006, core_2006), (2007, tsi_2007, core_2007), (2008, tsi_2008, core_2008),
    (2009, tsi_2009, core_2009), (2010, tsi_2010, core_2010), (2011, tsi_2011, core_2011),
    (2012, tsi_2012, core_2012), (2013, tsi_2013, core_2013), (2014, tsi_2014, core_2014),
    (2015, tsi_2015, core_2015), (2016, tsi_2016, core_2016), (2017, tsi_2017, core_2017),
]
SAMPLES_PER_YEAR = 30

x_ticks = [1980, 1985, 1990, 1995, 2000, 2005, 2010, 2015]
y_ticks = [1364.5, 1365.0, 1365.5, 1366.0, 1366.5, 1367.0, 1367.5]

# ---------------- tables ----------------
rows = []
for yr, spread, core in daily_years:
    for i, v in enumerate(spread):
        rows.append({"t": yr + i / SAMPLES_PER_YEAR, "v": v})
    for i, v in enumerate(core):
        rows.append({"t": yr + (i + 0.5) / SAMPLES_PER_YEAR, "v": v})
daily_df = pd.DataFrame(rows)
smooth_df = pd.DataFrame({"t": smooth_year, "v": smooth_value})
one = pd.DataFrame({"k": [0]})

FONT = "Lato"
RED = "#c1462c"
DOT = "#333333"

x_scale = alt.Scale(domain=[1975.63, 2017.83], nice=False, zero=False)
y_scale = alt.Scale(domain=[1364.5, 1367.5], nice=False, zero=False)

x_axis = alt.Axis(values=x_ticks, format="d", title=None, grid=False,
                  labelFontSize=14, labelColor="#555555", labelFont=FONT,
                  domainColor="#555555", tickColor="#555555", tickSize=12,
                  labelPadding=8)
y_axis = alt.Axis(values=y_ticks, format=",.1f", title="Watts per meter squared (W/m^2)",
                  grid=True, gridColor="#e2e3e5", domain=False, ticks=False, tickSize=0,
                  labelFontSize=14, labelColor="#555555", labelFont=FONT, labelPadding=21,
                  titleFont=FONT, titleFontSize=15.5, titleFontWeight="normal",
                  titleColor="#777777", titlePadding=11)

points = alt.Chart(daily_df).mark_circle(size=21, color=DOT, opacity=1, clip=True).encode(
    x=alt.X("t:Q", scale=x_scale, axis=x_axis),
    y=alt.Y("v:Q", scale=y_scale, axis=y_axis),
)

line = alt.Chart(smooth_df).mark_line(color=RED, strokeWidth=5, interpolate="monotone",
                                      strokeCap="round", strokeJoin="round").encode(
    x=alt.X("t:Q", scale=x_scale),
    y=alt.Y("v:Q", scale=y_scale),
)

# title
title = alt.Chart(one).mark_text(text="Total solar irradiance", font=FONT, fontSize=25,
                                 fontWeight="bold", color="#333333", align="left",
                                 baseline="alphabetic").encode(
    x=alt.value(-103), y=alt.value(-146))

# legend
leg_dot = alt.Chart(one).mark_circle(size=14, color=DOT, opacity=1).encode(
    x=alt.value(205), y=alt.value(-53))
leg_txt1 = alt.Chart(one).mark_text(text="Daily Solar Irradiance", font=FONT, fontSize=16.5,
                                    color="#333333", align="left", baseline="middle").encode(
    x=alt.value(222), y=alt.value(-53))
leg_line = alt.Chart(one).mark_rule(color=RED, strokeWidth=5, strokeCap="round").encode(
    x=alt.value(406), x2=alt.value(424), y=alt.value(-53))
leg_txt2 = alt.Chart(one).mark_text(text="Smoothed Average", font=FONT, fontSize=16.5,
                                    color="#333333", align="left", baseline="middle").encode(
    x=alt.value(432), y=alt.value(-53))

# logo
logo_c = alt.Chart(one).mark_text(text="C", font="DejaVu Sans Condensed", fontSize=24,
                                  fontWeight="bold", color="#6f849b", align="center",
                                  baseline="middle").encode(x=alt.value(850), y=alt.value(636))
logo_b = alt.Chart(one).mark_text(text="B", font="DejaVu Sans Condensed", fontSize=24,
                                  fontWeight="bold", color="#93bde3", align="center",
                                  baseline="middle").encode(x=alt.value(867), y=alt.value(636))

chart = alt.layer(points, line, title, leg_dot, leg_txt1, leg_line, leg_txt2, logo_c, logo_b).properties(
    width=866, height=560,
    autosize=alt.AutoSizeParams(type="none"),
    padding={"left": 123, "top": 175, "right": 17, "bottom": 105},
).configure(background="#f5f6f8").configure_view(stroke=None)

chart.save("out.html", embed_options={"renderer": "svg", "actions": False})
